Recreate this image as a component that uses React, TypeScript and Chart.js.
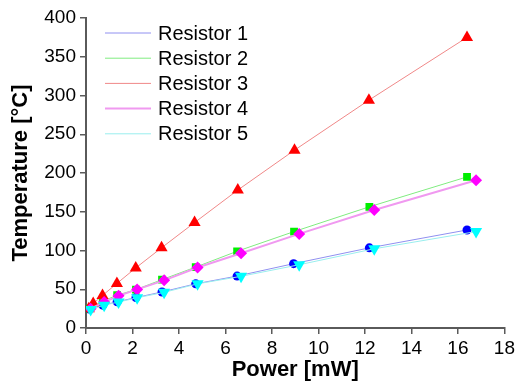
import React, { useEffect, useRef } from "react";
import { Chart, registerables } from "chart.js";

Chart.register(...registerables);

const seriesNames = ["Resistor 1", "Resistor 2", "Resistor 3", "Resistor 4", "Resistor 5"];

// Power [mW] values
const power1 = [0.14, 0.72, 1.34, 2.15, 3.27, 4.72, 6.5, 8.93, 12.19, 16.39];
const power2 = [0.14, 0.72, 1.34, 2.15, 3.27, 4.72, 6.5, 8.95, 12.19, 16.39];
const power3 = [0.12, 0.31, 0.71, 1.33, 2.14, 3.25, 4.67, 6.53, 8.97, 12.17, 16.39];
const power4 = [0.2, 0.78, 1.4, 2.2, 3.36, 4.8, 6.67, 9.17, 12.4, 16.78];
const power5 = [0.2, 0.78, 1.4, 2.2, 3.36, 4.8, 6.67, 9.17, 12.4, 16.78];

// Temperature [°C] values
const temp1 = [24.5, 29.5, 33.8, 39.3, 46.5, 57, 67, 83, 103.4, 126.5];
const temp2 = [25, 34.6, 42.3, 49.6, 62.4, 78.6, 99, 124.4, 156.4, 195];
const temp3 = [25, 31.5, 42, 57.5, 77.5, 103.5, 136, 178, 229.5, 294, 375];
const temp4 = [25, 33.5, 41.5, 49.8, 61.5, 78, 96.5, 121.4, 152.2, 190.6];
const temp5 = [24, 29.5, 33.5, 39, 46, 57, 66.7, 81.6, 102.2, 124.4];

const xTickMin = 0;
const xTickMax = 18;
const xTickStep = 2;
const yTickMin = 0;
const yTickMax = 400;
const yTickStep = 50;

const FONT = '"Liberation Sans", Arial, Helvetica, sans-serif';
const AXIS = "#5a5a5a";

function toPoints(xs: number[], ys: number[]) {
  return xs.map((x, i) => ({ x, y: ys[i] }));
}

const insideLegend = {
  id: "insideLegend",
  afterDraw(chart: any) {
    const { ctx, chartArea } = chart;
    const ds = chart.data.datasets;
    ctx.save();
    ds.forEach((d: any, i: number) => {
      const y = chartArea.top + 15 + i * 25.2;
      const x0 = chartArea.left + 19;
      ctx.strokeStyle = d.borderColor;
      ctx.lineWidth = d.legendLineWidth || 1;
      ctx.beginPath();
      ctx.moveTo(x0, y);
      ctx.lineTo(x0 + 46, y);
      ctx.stroke();
      ctx.fillStyle = "#000";
      ctx.font = `20px ${FONT}`;
      ctx.textBaseline = "middle";
      ctx.textAlign = "left";
      ctx.fillText(d.label, x0 + 53, y + 1);
    });
    ctx.restore();
  },
};

export default function App() {
  const ref = useRef<HTMLCanvasElement | null>(null);

  useEffect(() => {
    document.body.style.margin = "0";
    const canvas = ref.current;
    if (!canvas) return;
    const mk = (
      i: number,
      xs: number[],
      ys: number[],
      line: string,
      fill: string,
      style: string,
      lw: number,
      order: number,
      rot = 0,
      r = 4.5
    ) => ({
      label: seriesNames[i],
      data: toPoints(xs, ys),
      showLine: true,
      borderColor: line,
      borderWidth: lw,
      legendLineWidth: lw,
      backgroundColor: fill,
      pointBackgroundColor: fill,
      pointBorderColor: fill,
      pointBorderWidth: 0,
      pointStyle: style,
      pointRotation: rot,
      pointRadius: r,
      tension: 0,
      order,
    });
    const chart = new Chart(canvas, {
      type: "scatter",
      data: {
        datasets: [
          mk(0, power1, temp1, "#9090f0", "#0000ff", "circle", 1, 5, 0, 4.5),
          mk(1, power2, temp2, "#80ec80", "#00ee00", "rect", 1, 4, 0, 5.5),
          mk(2, power3, temp3, "#f08888", "#ff0000", "triangle", 1, 3, 0, 7),
          mk(3, power4, temp4, "#f099f0", "#ff00ff", "rectRot", 2, 2, 0, 6),
          mk(4, power5, temp5, "#99eeee", "#00ffff", "triangle", 1, 1, 180, 7),
        ] as any,
      },
      options: {
        responsive: false,
        animation: false,
        layout: { padding: { top: 18, right: 11, left: 0, bottom: 0 } },
        plugins: {
          legend: { display: false },
          tooltip: { enabled: false },
        },
        scales: {
          x: {
            type: "linear",
            min: xTickMin,
            max: xTickMax,
            afterFit: (s: any) => {
              s.height = 63;
            },
            ticks: {
              stepSize: xTickStep,
              color: "#000",
              font: { family: FONT, size: 19 },
              padding: 3,
            },
            grid: {
              drawOnChartArea: false,
              drawTicks: true,
              tickLength: 6,
              color: AXIS,
              lineWidth: 1.5,
            },
            border: { display: true, color: AXIS, width: 2 },
            title: {
              display: true,
              text: "Power [mW]",
              color: "#000",
              font: { family: FONT, size: 22, weight: "bold" },
              padding: { top: 0, bottom: 8 },
            },
          },
          y: {
            type: "linear",
            min: yTickMin,
            max: yTickMax,
            afterFit: (s: any) => {
              s.width = 86;
            },
            ticks: {
              stepSize: yTickStep,
              color: "#000",
              font: { family: FONT, size: 19 },
              padding: 4,
            },
            grid: {
              drawOnChartArea: false,
              drawTicks: true,
              tickLength: 6,
              color: AXIS,
              lineWidth: 1.5,
            },
            border: { display: true, color: AXIS, width: 2 },
            title: {
              display: true,
              text: "Temperature [°C]",
              color: "#000",
              font: { family: FONT, size: 22, weight: "bold" },
              padding: { top: 8, bottom: 0 },
            },
          },
        },
      } as any,
      plugins: [insideLegend],
    });
    return () => chart.destroy();
  }, []);

  return (
    <div style={{ position: "fixed", left: 0, top: 0, width: 518, height: 391, background: "#fff" }}>
      <canvas ref={ref} width={518} height={391} />
    </div>
  );
}
